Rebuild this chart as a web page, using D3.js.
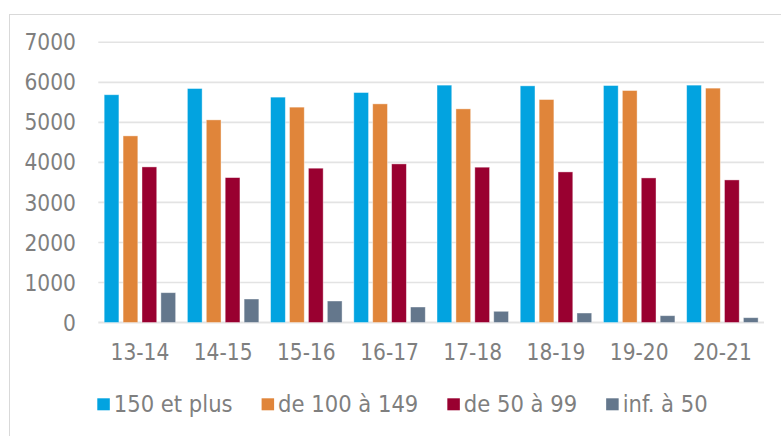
<!DOCTYPE html>
<html>
<head>
<meta charset="utf-8">
<script src="https://cdn.jsdelivr.net/npm/d3@7"></script>
<style>
  body { margin: 0; background: #fff; }
  svg text { font-family: "DejaVu Sans Condensed", "DejaVu Sans", sans-serif; font-stretch: condensed; fill: #7f7f7f; }
</style>
</head>
<body>
<script>
const categories = ['13-14', '14-15', '15-16', '16-17', '17-18', '18-19', '19-20', '20-21'];
const seriesNames = ['150 et plus', 'de 100 à 149', 'de 50 à 99', 'inf. à 50'];
const plus150 = [5690, 5845, 5630, 5745, 5930, 5912, 5920, 5930];
const de100a149 = [4662, 5062, 5380, 5462, 5337, 5570, 5795, 5855];
const de50a99 = [3887, 3620, 3855, 3962, 3880, 3762, 3612, 3562];
const inf50 = [745, 587, 537, 387, 280, 237, 170, 120];
const yTicks = [0, 1000, 2000, 3000, 4000, 5000, 6000, 7000];
const colors = ['#02a3e0', '#e0853a', '#990030', '#64778c'];

const allValues = [plus150, de100a149, de50a99, inf50];

const width = 781, height = 436;
const svg = d3.select('body').append('svg')
  .attr('width', width)
  .attr('height', height);

// chart frame (runs past the right/bottom edge in the original)
svg.append('rect')
  .attr('x', 9.5).attr('y', 14.5)
  .attr('width', 800).attr('height', 440)
  .attr('fill', 'none')
  .attr('stroke', '#d9d9d9')
  .attr('stroke-width', 1);

const x0 = d3.scaleBand()
  .domain(categories)
  .range([98.3, 764])
  .padding(0);

const x1 = d3.scaleBand()
  .domain(seriesNames)
  .range([0, x0.bandwidth()])
  .paddingInner(0.22)
  .paddingOuter(0.31);

const y = d3.scaleLinear()
  .domain([0, 7000])
  .range([322.5, 42.3]);

// gridlines
svg.append('g')
  .selectAll('line')
  .data(yTicks)
  .join('line')
  .attr('x1', 98.3)
  .attr('x2', 764)
  .attr('y1', d => y(d))
  .attr('y2', d => y(d))
  .attr('stroke', '#e3e3e3')
  .attr('stroke-width', d => d === 0 ? 2 : 1.6);

// y labels
svg.append('g')
  .selectAll('text')
  .data(yTicks)
  .join('text')
  .attr('x', 76)
  .attr('y', d => y(d))
  .attr('dy', '0.36em')
  .attr('text-anchor', 'end')
  .style('font-size', '22.5px')
  .text(d => d);

// bars
const rows = [];
categories.forEach((c, i) => {
  seriesNames.forEach((s, j) => {
    rows.push({ cat: c, series: s, value: allValues[j][i], color: colors[j] });
  });
});

svg.append('g')
  .selectAll('rect')
  .data(rows)
  .join('rect')
  .attr('x', d => x0(d.cat) + x1(d.series))
  .attr('y', d => y(d.value))
  .attr('width', x1.bandwidth())
  .attr('height', d => y(0) - y(d.value))
  .attr('fill', d => d.color)
  .attr('stroke', 'rgba(255,255,255,0.5)')
  .attr('stroke-width', 0.8);

// x labels
svg.append('g')
  .selectAll('text')
  .data(categories)
  .join('text')
  .attr('x', d => x0(d) + x0.bandwidth() / 2)
  .attr('y', 360)
  .attr('text-anchor', 'middle')
  .style('font-size', '22.5px')
  .text(d => d);

// legend
const legend = svg.append('g');
let lx = 97.3;
seriesNames.forEach((s, j) => {
  legend.append('rect')
    .attr('x', lx).attr('y', 398.3)
    .attr('width', 12.5).attr('height', 12)
    .attr('fill', colors[j]);
  const t = legend.append('text')
    .attr('x', lx + 16.5)
    .attr('y', 411.5)
    .style('font-size', '23.5px')
    .text(s);
  lx += 16.5 + t.node().getComputedTextLength() + 29;
});
</script>
</body>
</html>
